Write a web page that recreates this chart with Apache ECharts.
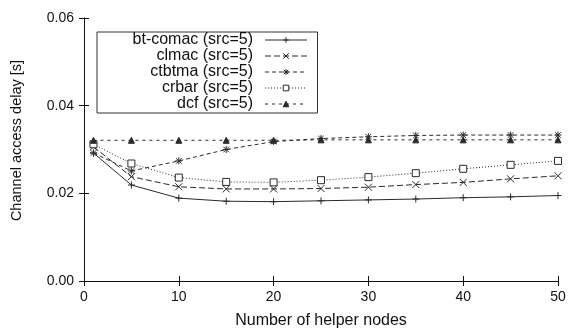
<!DOCTYPE html>
<html><head><meta charset="utf-8">
<script src="https://cdn.jsdelivr.net/npm/echarts@6/dist/echarts.min.js"></script>
<style>html,body{margin:0;padding:0;background:#fff}#c{width:573px;height:329px}</style>
</head><body><div id="c"></div>
<script>
const helpers = [1, 5, 10, 15, 20, 25, 30, 35, 40, 45, 50];
const btComac = [0.0292, 0.0219, 0.0189, 0.0182, 0.0181, 0.0183, 0.0185, 0.0187, 0.0190, 0.0192, 0.0195];
const clmac   = [0.0306, 0.0238, 0.0215, 0.0210, 0.0210, 0.0211, 0.0214, 0.0220, 0.0225, 0.0233, 0.0240];
const ctbtma  = [0.0292, 0.0251, 0.0274, 0.0300, 0.0318, 0.0325, 0.0329, 0.0332, 0.0333, 0.0333, 0.0333];
const crbar   = [0.0312, 0.0268, 0.0236, 0.0226, 0.0225, 0.0230, 0.0237, 0.0246, 0.0256, 0.0265, 0.0274];
const dcf     = [0.0321, 0.0321, 0.0321, 0.0321, 0.0321, 0.0322, 0.0322, 0.0322, 0.0322, 0.0322, 0.0322];
const seriesNames = ['bt-comac (src=5)', 'clmac (src=5)', 'ctbtma (src=5)', 'crbar (src=5)', 'dcf (src=5)'];
const xTicks = [0, 10, 20, 30, 40, 50];
const yTicks = [0.00, 0.02, 0.04, 0.06];

const pair = v => helpers.map((x, i) => [x, v[i]]);
const PLUS = 'path://M0,5L10,5M5,0L5,10';
const CROSS = 'path://M0,0L10,10M0,10L10,0';
const STAR = 'path://M0,5L10,5M5,0L5,10M1,1L9,9M1,9L9,1';
const ink = '#2a2a2a';
function mk(name, data, dash, symbol, size, fill) {
  return {
    name, type: 'line', data: pair(data), symbol, symbolSize: size,
    lineStyle: { color: ink, width: 1, type: dash },
    itemStyle: { color: fill, borderColor: ink, borderWidth: 1 },
    emphasis: { disabled: true }, animation: false
  };
}
const axisCommon = {
  axisLine: { show: true, lineStyle: { color: '#111', width: 1 } },
  axisTick: { show: true, inside: true, length: 5, lineStyle: { color: '#111' } },
  splitLine: { show: false }
};
const font = 'Liberation Sans, Arial, sans-serif';
const chart = echarts.init(document.getElementById('c'), null, { renderer: 'canvas' });
chart.setOption({
  backgroundColor: '#fff',
  animation: false,
  grid: { left: 84, right: 15, top: 18, bottom: 48, containLabel: false, outerBoundsMode: 'none' },
  legend: {
    data: seriesNames, orient: 'vertical', left: 97, top: 32,
    itemWidth: 42, itemHeight: 7, itemGap: 0, align: 'right',
    padding: [0, 10, 1, 6],
    borderColor: '#333', borderWidth: 1, backgroundColor: '#fff',
    lineStyle: { width: 1 },
    itemStyle: { borderWidth: 1 },
    textStyle: { fontFamily: font, fontSize: 16, color: '#111', width: 150, align: 'right', lineHeight: 16, padding: [0, 7, 0, 0] }
  },
  xAxis: [
    Object.assign({}, axisCommon, { type: 'value', min: 0, max: 50, interval: 10,
      name: 'Number of helper nodes', nameLocation: 'middle', nameGap: 32,
      nameTextStyle: { fontFamily: font, fontSize: 16, color: '#111' },
      axisLabel: { fontFamily: font, fontSize: 14, color: '#111', margin: 9,
        formatter: v => xTicks.includes(v) ? String(v) : '' } }),
    Object.assign({}, axisCommon, { type: 'value', position: 'top', min: 0, max: 50, interval: 10,
      axisLabel: { show: false } })
  ],
  yAxis: [
    Object.assign({}, axisCommon, { type: 'value', min: 0, max: 0.06, interval: 0.02,
      name: 'Channel access delay [s]', nameLocation: 'middle', nameGap: 60,
      nameTextStyle: { fontFamily: font, fontSize: 14.5, color: '#111', padding: [0, 0, 0, 18] },
      axisLabel: { fontFamily: font, fontSize: 14, color: '#111', margin: 10,
        formatter: v => yTicks.some(t => Math.abs(t - v) < 1e-9) ? v.toFixed(2) : '' } }),
    Object.assign({}, axisCommon, { type: 'value', position: 'right', min: 0, max: 0.06, interval: 0.02,
      axisLabel: { show: false } })
  ],
  series: [
    mk(seriesNames[0], btComac, 'solid', PLUS, 7, '#fff'),
    mk(seriesNames[1], clmac, [6, 3], CROSS, 7, '#fff'),
    mk(seriesNames[2], ctbtma, [4, 3], STAR, 7, '#fff'),
    mk(seriesNames[3], crbar, [1, 2], 'rect', 7, '#fff'),
    mk(seriesNames[4], dcf, [3, 4], 'triangle', 6, ink)
  ]
});
</script></body></html>
